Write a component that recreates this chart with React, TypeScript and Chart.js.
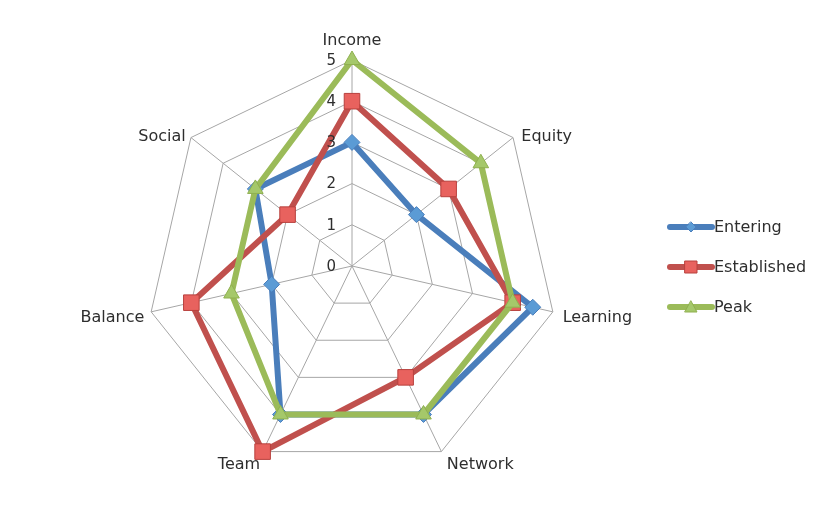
import React, { useEffect, useRef } from "react";
import { Chart, registerables } from "chart.js";

Chart.register(...registerables);

const categories = ["Income", "Equity", "Learning", "Network", "Team", "Balance", "Social"];
const entering = [3, 2, 4.5, 4, 4, 2, 3];
const established = [4, 3, 4, 3, 5, 4, 2];
const peak = [5, 4, 4, 4, 4, 3, 3];
const tickLabels = ["0", "1", "2", "3", "4", "5"];
const seriesNames = ["Entering", "Established", "Peak"];

const BLUE = "#4a7ebb";
const RED = "#c0504d";
const GREEN = "#9bbb59";
const FONT = "'DejaVu Sans', 'Open Sans', sans-serif";
const TEXT = "#2e2e2e";

const labelPlugin = {
  id: "axisText",
  afterDatasetsDraw(chart: any) {
    const scale = chart.scales.r;
    const ctx = chart.ctx;
    ctx.save();
    ctx.fillStyle = TEXT;
    ctx.textBaseline = "middle";
    // tick labels left of vertical axis
    ctx.font = `15px ${FONT}`;
    ctx.textAlign = "right";
    tickLabels.forEach((t, i) => {
      const d = scale.getDistanceFromCenterForValue(i);
      ctx.fillText(t, scale.xCenter - 16, scale.yCenter - d + 1);
    });
    // point labels
    ctx.font = `16px ${FONT}`;
    const r = scale.drawingArea;
    categories.forEach((c, i) => {
      const p = scale.getPointPosition(i, r + 8);
      let align = "center";
      let x = p.x;
      if (p.x > scale.xCenter + 5) { align = "left"; x += 2; }
      else if (p.x < scale.xCenter - 5) { align = "right"; x += 1; }
      let y = p.y;
      if (p.y < scale.yCenter - r * 0.9) y -= 11;
      else if (p.y > scale.yCenter + r * 0.8) y += 6;
      else y += 4;
      ctx.textAlign = align;
      ctx.fillText(c, x, y);
    });
    ctx.restore();
  },
};

const legendPlugin = {
  id: "customLegend",
  afterDraw(chart: any) {
    const ctx = chart.ctx;
    const items = chart.data.datasets;
    ctx.save();
    items.forEach((ds: any, i: number) => {
      const y = 227 + i * 40;
      const x0 = 670;
      const x1 = 712;
      ctx.strokeStyle = ds.borderColor;
      ctx.lineWidth = 6;
      ctx.lineCap = "round";
      ctx.beginPath();
      ctx.moveTo(x0, y);
      ctx.lineTo(x1, y);
      ctx.stroke();
      const cx = (x0 + x1) / 2;
      ctx.fillStyle = ds.pointBackgroundColor;
      ctx.strokeStyle = ds.pointBorderColor;
      ctx.lineWidth = 1;
      ctx.beginPath();
      if (ds.pointStyle === "rectRot") {
        ctx.moveTo(cx, y - 5);
        ctx.lineTo(cx + 5, y);
        ctx.lineTo(cx, y + 5);
        ctx.lineTo(cx - 5, y);
        ctx.closePath();
      } else if (ds.pointStyle === "rect") {
        ctx.rect(cx - 6, y - 6, 12, 12);
      } else {
        ctx.moveTo(cx, y - 6);
        ctx.lineTo(cx + 6, y + 5);
        ctx.lineTo(cx - 6, y + 5);
        ctx.closePath();
      }
      ctx.fill();
      ctx.stroke();
      ctx.font = `16px ${FONT}`;
      ctx.fillStyle = TEXT;
      ctx.textAlign = "left";
      ctx.textBaseline = "middle";
      ctx.fillText(seriesNames[i], x1 + 2, y + 1);
    });
    ctx.restore();
  },
};

export default function App() {
  const ref = useRef<HTMLCanvasElement>(null);
  useEffect(() => {
    if (!ref.current) return;
    const chart = new Chart(ref.current, {
      type: "radar",
      data: {
        labels: categories,
        datasets: [
          {
            label: seriesNames[0],
            data: entering,
            borderColor: BLUE,
            backgroundColor: "transparent",
            borderWidth: 6,
            pointStyle: "rectRot",
            pointRadius: 8,
            pointBackgroundColor: "#5b9bd5",
            pointBorderColor: "#4a7ebb",
            pointBorderWidth: 1,
            fill: false,
            order: 2,
          } as any,
          {
            label: seriesNames[1],
            data: established,
            borderColor: RED,
            backgroundColor: "transparent",
            borderWidth: 6,
            pointStyle: "rect",
            pointRadius: 11,
            pointBackgroundColor: "#e8625e",
            pointBorderColor: "#b8403d",
            pointBorderWidth: 1,
            fill: false,
            order: 1,
          } as any,
          {
            label: seriesNames[2],
            data: peak,
            borderColor: GREEN,
            backgroundColor: "transparent",
            borderWidth: 6,
            pointStyle: "triangle",
            pointRadius: 9,
            pointBackgroundColor: "#a5c86a",
            pointBorderColor: "#8fb04f",
            pointBorderWidth: 1,
            fill: false,
            order: 0,
          } as any,
        ],
      },
      options: {
        responsive: false,
        animation: false,
        layout: { padding: { left: 146, right: 277, top: 60, bottom: 54 } },
        plugins: { legend: { display: false }, tooltip: { enabled: false } },
        elements: { line: { tension: 0, borderJoinStyle: "miter" } },
        scales: {
          r: {
            min: 0,
            max: 5,
            ticks: { stepSize: 1, display: false },
            grid: { color: "#a6a6a6", lineWidth: 1 },
            angleLines: { color: "#a6a6a6", lineWidth: 1 },
            pointLabels: { display: false },
          },
        },
      },
      plugins: [labelPlugin, legendPlugin],
    });
    return () => chart.destroy();
  }, []);
  return (
    <div style={{ position: "absolute", left: 0, top: 0, width: 835, height: 526, background: "#fff" }}>
      <canvas ref={ref} width={835} height={526} />
    </div>
  );
}
